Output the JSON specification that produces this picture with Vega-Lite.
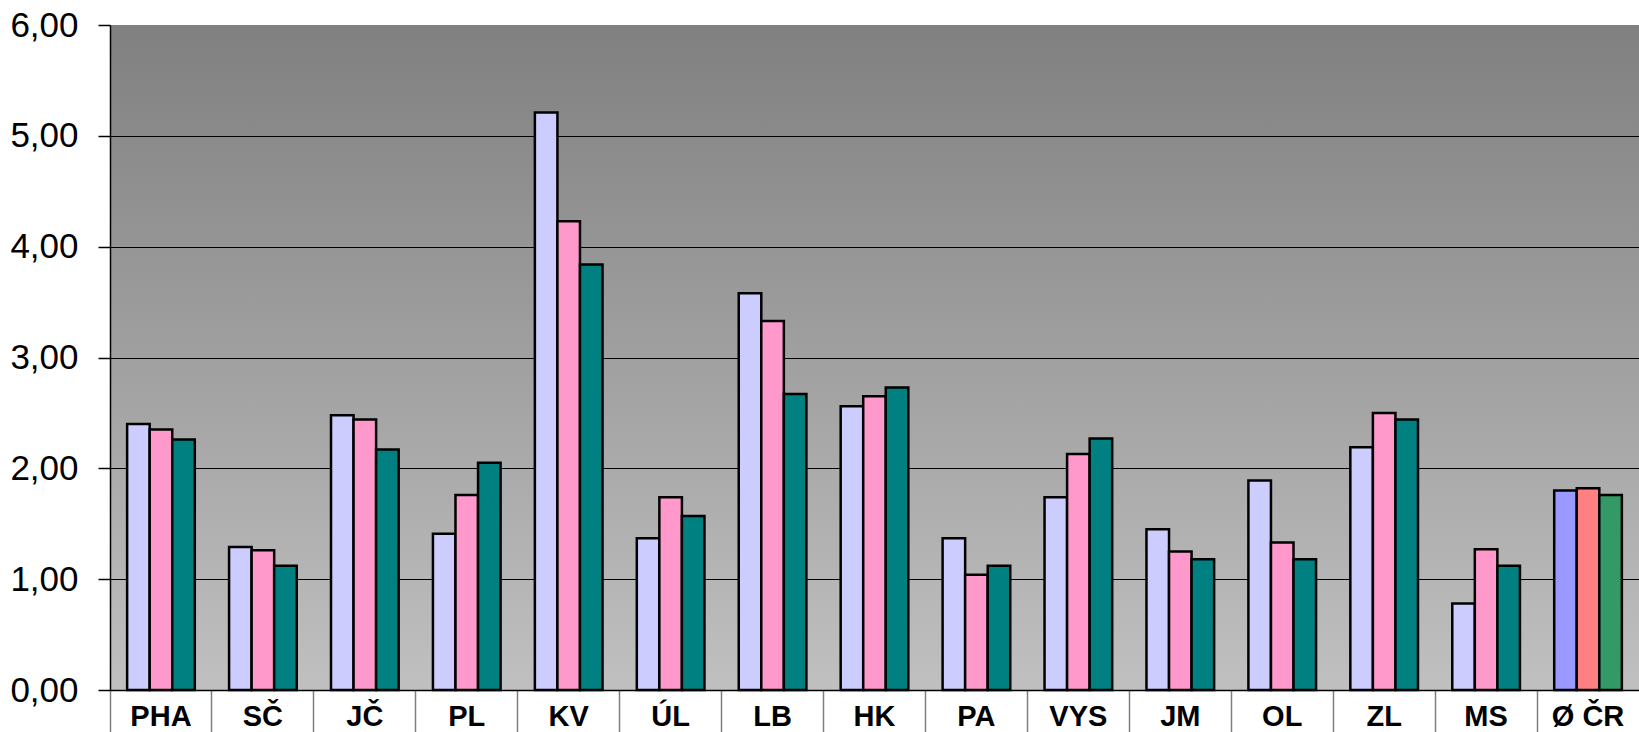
{
  "$schema": "https://vega.github.io/schema/vega-lite/v6.json",
  "autosize": {"type": "none"},
  "padding": {"left": 110, "top": 25, "right": 0, "bottom": 42},
  "width": 1529,
  "height": 665,
  "background": "white",
  "config": {
    "font": "Liberation Sans",
    "view": {
      "stroke": null,
      "fill": {"gradient": "linear", "x1": 0, "y1": 0, "x2": 0, "y2": 1,
        "stops": [{"offset": 0, "color": "#808080"}, {"offset": 1, "color": "#c0c0c0"}]}
    }
  },
  "data": {"values": [
    {"kraj": "PHA", "rada": "řada 1", "hodnota": 2.40},
    {"kraj": "PHA", "rada": "řada 2", "hodnota": 2.35},
    {"kraj": "PHA", "rada": "řada 3", "hodnota": 2.26},
    {"kraj": "SČ", "rada": "řada 1", "hodnota": 1.29},
    {"kraj": "SČ", "rada": "řada 2", "hodnota": 1.26},
    {"kraj": "SČ", "rada": "řada 3", "hodnota": 1.12},
    {"kraj": "JČ", "rada": "řada 1", "hodnota": 2.48},
    {"kraj": "JČ", "rada": "řada 2", "hodnota": 2.44},
    {"kraj": "JČ", "rada": "řada 3", "hodnota": 2.17},
    {"kraj": "PL", "rada": "řada 1", "hodnota": 1.41},
    {"kraj": "PL", "rada": "řada 2", "hodnota": 1.76},
    {"kraj": "PL", "rada": "řada 3", "hodnota": 2.05},
    {"kraj": "KV", "rada": "řada 1", "hodnota": 5.21},
    {"kraj": "KV", "rada": "řada 2", "hodnota": 4.23},
    {"kraj": "KV", "rada": "řada 3", "hodnota": 3.84},
    {"kraj": "ÚL", "rada": "řada 1", "hodnota": 1.37},
    {"kraj": "ÚL", "rada": "řada 2", "hodnota": 1.74},
    {"kraj": "ÚL", "rada": "řada 3", "hodnota": 1.57},
    {"kraj": "LB", "rada": "řada 1", "hodnota": 3.58},
    {"kraj": "LB", "rada": "řada 2", "hodnota": 3.33},
    {"kraj": "LB", "rada": "řada 3", "hodnota": 2.67},
    {"kraj": "HK", "rada": "řada 1", "hodnota": 2.56},
    {"kraj": "HK", "rada": "řada 2", "hodnota": 2.65},
    {"kraj": "HK", "rada": "řada 3", "hodnota": 2.73},
    {"kraj": "PA", "rada": "řada 1", "hodnota": 1.37},
    {"kraj": "PA", "rada": "řada 2", "hodnota": 1.04},
    {"kraj": "PA", "rada": "řada 3", "hodnota": 1.12},
    {"kraj": "VYS", "rada": "řada 1", "hodnota": 1.74},
    {"kraj": "VYS", "rada": "řada 2", "hodnota": 2.13},
    {"kraj": "VYS", "rada": "řada 3", "hodnota": 2.27},
    {"kraj": "JM", "rada": "řada 1", "hodnota": 1.45},
    {"kraj": "JM", "rada": "řada 2", "hodnota": 1.25},
    {"kraj": "JM", "rada": "řada 3", "hodnota": 1.18},
    {"kraj": "OL", "rada": "řada 1", "hodnota": 1.89},
    {"kraj": "OL", "rada": "řada 2", "hodnota": 1.33},
    {"kraj": "OL", "rada": "řada 3", "hodnota": 1.18},
    {"kraj": "ZL", "rada": "řada 1", "hodnota": 2.19},
    {"kraj": "ZL", "rada": "řada 2", "hodnota": 2.50},
    {"kraj": "ZL", "rada": "řada 3", "hodnota": 2.44},
    {"kraj": "MS", "rada": "řada 1", "hodnota": 0.78},
    {"kraj": "MS", "rada": "řada 2", "hodnota": 1.27},
    {"kraj": "MS", "rada": "řada 3", "hodnota": 1.12},
    {"kraj": "Ø ČR", "rada": "řada 1", "hodnota": 1.80},
    {"kraj": "Ø ČR", "rada": "řada 2", "hodnota": 1.82},
    {"kraj": "Ø ČR", "rada": "řada 3", "hodnota": 1.76}
  ]},
  "mark": {"type": "bar", "stroke": "black", "strokeWidth": 2.5},
  "encoding": {
    "x": {
      "field": "kraj", "type": "nominal", "sort": null,
      "scale": {"paddingInner": 0, "paddingOuter": 0},
      "axis": {
        "title": null, "labelAngle": 0, "bandPosition": 0,
        "domainColor": "black", "domainWidth": 1.5,
        "tickColor": "#808080", "tickSize": 42, "tickWidth": 1.5,
        "labelFont": "Liberation Sans", "labelFontSize": 29, "labelFontWeight": "bold",
        "labelColor": "black", "labelBaseline": "middle", "labelPadding": -16
      }
    },
    "xOffset": {"field": "rada", "type": "nominal", "scale": {"paddingInner": 0, "paddingOuter": 0.76}},
    "y": {
      "field": "hodnota", "type": "quantitative",
      "scale": {"domain": [0, 6], "nice": false},
      "axis": {
        "title": null, "values": [0, 1, 2, 3, 4, 5, 6],
        "labelExpr": "replace(format(datum.value, '.2f'), '.', ',')",
        "grid": true, "gridWidth": 1,
        "gridColor": {"condition": {"test": "datum.value === 6", "value": "transparent"}, "value": "black"},
        "domainColor": "black", "domainWidth": 1.5,
        "tickColor": "black", "tickSize": 12, "tickWidth": 1.5,
        "labelFont": "Liberation Sans", "labelFontSize": 35, "labelColor": "black",
        "labelPadding": 20
      }
    },
    "color": {
      "condition": [
        {"test": "datum.kraj === 'Ø ČR' && datum.rada === 'řada 1'", "value": "#9999ff"},
        {"test": "datum.kraj === 'Ø ČR' && datum.rada === 'řada 2'", "value": "#ff8080"},
        {"test": "datum.kraj === 'Ø ČR' && datum.rada === 'řada 3'", "value": "#339966"}
      ],
      "field": "rada", "type": "nominal",
      "scale": {"domain": ["řada 1", "řada 2", "řada 3"], "range": ["#ccccff", "#ff99cc", "#008080"]},
      "legend": null
    }
  }
}
